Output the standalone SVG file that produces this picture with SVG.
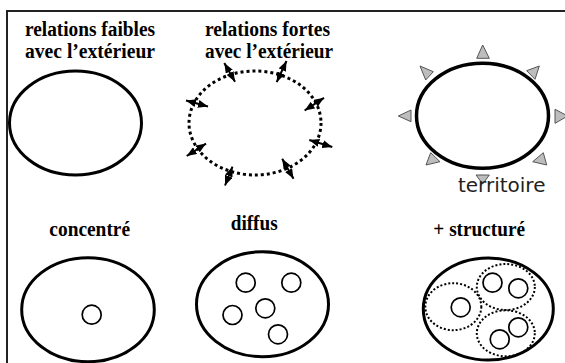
<svg xmlns="http://www.w3.org/2000/svg" width="565" height="363" viewBox="0 0 565 363">
<style>
.title{font-family:'Liberation Serif',serif !important;font-weight:bold;font-size:20px;fill:#000;text-anchor:middle}
.lbl{font-family:'DejaVu Sans',sans-serif;font-size:20px;fill:#222;text-anchor:middle}
.big{fill:none;stroke:#000;stroke-width:3}
.dotbig{fill:none;stroke:#000;stroke-width:3;stroke-dasharray:3 3}
.small{fill:none;stroke:#000;stroke-width:1.7}
.dotsmall{fill:none;stroke:#000;stroke-width:2;stroke-dasharray:2 2}
.tri{fill:#bdbdbd;stroke:#555;stroke-width:1}
.arr{stroke:#000;stroke-width:2;marker-start:url(#ah);marker-end:url(#ah)}
</style>
<defs>
<marker id="ah" markerUnits="userSpaceOnUse" markerWidth="10" markerHeight="8" refX="10" refY="4" orient="auto-start-reverse">
<path d="M0,0 L10,4 L0,8 z" fill="#000"/>
</marker>
</defs>
<rect x="7" y="11" width="600" height="400" fill="none" stroke="#222" stroke-width="2"/>

<g id="faibles">
<text class="title" style="font-family:'Liberation Serif',serif" x="90" y="35.5" textLength="130" lengthAdjust="spacingAndGlyphs">relations faibles</text>
<text class="title" style="font-family:'Liberation Serif',serif" x="90" y="58" textLength="130" lengthAdjust="spacingAndGlyphs">avec l’extérieur</text>
<ellipse class="big" cx="75.5" cy="123" rx="66" ry="52"/>
</g>

<g id="fortes">
<text class="title" style="font-family:'Liberation Serif',serif" x="267.5" y="35.5" textLength="125" lengthAdjust="spacingAndGlyphs">relations fortes</text>
<text class="title" style="font-family:'Liberation Serif',serif" x="269" y="58" textLength="128" lengthAdjust="spacingAndGlyphs">avec l’extérieur</text>
<ellipse class="dotbig" cx="255" cy="123" rx="66" ry="52"/>
</g>

<g id="connectors">
<line class="arr" x1="224.3" y1="63" x2="235" y2="81.7"/>
<line class="arr" x1="286.5" y1="61" x2="276.7" y2="82.2"/>
<line class="arr" x1="186" y1="100.5" x2="208" y2="106.5"/>
<line class="arr" x1="324" y1="97.8" x2="304.6" y2="110.5"/>
<line class="arr" x1="206" y1="143.6" x2="186.7" y2="156"/>
<line class="arr" x1="309.3" y1="140" x2="332.3" y2="147"/>
<line class="arr" x1="232.5" y1="166.7" x2="225" y2="185.5"/>
<line class="arr" x1="282.2" y1="158.8" x2="293.5" y2="178.8"/>
</g>

<g id="territoire">
<ellipse cx="482.5" cy="115.8" rx="66" ry="52.5" fill="none" stroke="#000" stroke-width="3.5"/>
<polygon class="tri" points="482.7,45 476.7,58.3 489.3,58.3"/>
<polygon class="tri" points="420,66 433.3,71.7 425.7,80"/>
<polygon class="tri" points="539.3,66 526.7,70.7 535,79.3"/>
<polygon class="tri" points="398.3,116 411,110 411,121.7"/>
<polygon class="tri" points="567.7,116 555,109.3 555,123.3"/>
<polygon class="tri" points="426,165 430.7,152.7 440,161.7"/>
<polygon class="tri" points="546.7,165 543.3,152.7 532.7,161.7"/>
<polygon class="tri" points="482.7,184 476,175 489.3,175"/>
<text class="lbl" x="501.7" y="191.7">territoire</text>
</g>

<g id="concentre">
<text class="title" style="font-family:'Liberation Serif',serif" x="89.7" y="235.7" textLength="80.7" lengthAdjust="spacingAndGlyphs">concentré</text>
<ellipse class="big" cx="88" cy="309.7" rx="66.3" ry="52"/>
<circle class="small" cx="91.7" cy="314.7" r="9.5"/>
</g>

<g id="diffus">
<text class="title" style="font-family:'Liberation Serif',serif" x="254.2" y="230" textLength="47" lengthAdjust="spacingAndGlyphs">diffus</text>
<ellipse class="big" cx="262.5" cy="304.2" rx="66" ry="52.5"/>
<circle class="small" cx="245.7" cy="282.7" r="9.5"/>
<circle class="small" cx="291.3" cy="282.7" r="9.5"/>
<circle class="small" cx="265.3" cy="308.3" r="9.5"/>
<circle class="small" cx="232.5" cy="315" r="9.5"/>
<circle class="small" cx="278" cy="334.3" r="9.5"/>
</g>

<g id="structure">
<text class="title" style="font-family:'Liberation Serif',serif" x="479.2" y="236" textLength="91.7" lengthAdjust="spacingAndGlyphs">+ structuré</text>
<ellipse class="big" cx="488.3" cy="309" rx="65" ry="51"/>
<ellipse class="dotsmall" cx="453.3" cy="306.7" rx="28" ry="23.5"/>
<ellipse class="dotsmall" cx="505.8" cy="287" rx="29" ry="23"/>
<ellipse class="dotsmall" cx="505.8" cy="333.3" rx="29" ry="23"/>
<circle class="small" cx="460.7" cy="307.3" r="9.5"/>
<circle class="small" cx="492.5" cy="282.7" r="9.5"/>
<circle class="small" cx="518.3" cy="288.3" r="9.5"/>
<circle class="small" cx="518.3" cy="327.3" r="9.5"/>
<circle class="small" cx="499.7" cy="339.3" r="9.5"/>
</g>
</svg>
